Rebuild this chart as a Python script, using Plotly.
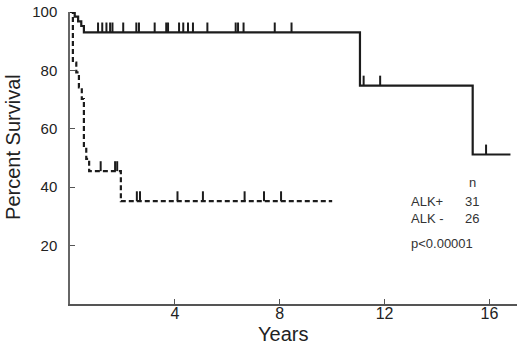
import plotly.graph_objects as go

# ALK+ (solid) Kaplan-Meier steps
pos_times = [0, 0.18, 0.31, 0.43, 0.53, 11.06, 15.36, 16.8]
pos_surv = [100, 98.4, 96.8, 95.2, 93.0, 74.8, 51.2, 51.2]
pos_censor = [0.08, 1.07, 1.23, 1.39, 1.53, 1.62, 2.03, 2.53, 2.63, 3.23, 3.67, 3.74,
              4.16, 4.32, 4.5, 4.69, 5.24, 6.32, 6.41, 6.62, 7.81, 8.45, 11.2, 11.83, 15.87]

# ALK- (dashed) Kaplan-Meier steps
neg_times = [0, 0.11, 0.24, 0.34, 0.45, 0.53, 0.62, 0.73, 1.94, 10.0]
neg_surv = [100, 82.7, 79.3, 74.2, 70.2, 53.7, 49.7, 45.5, 35.2, 35.2]
neg_censor = [1.17, 1.72, 1.80, 2.55, 2.67, 4.1, 5.07, 6.66, 7.4, 8.05]

x_ticks = [4, 8, 12, 16]
y_ticks = [20, 40, 60, 80, 100]

INK = "#1c1c1c"
TICK_H = 3.4  # censor mark height in survival units


def surv_at(t, times, surv):
    s = surv[0]
    for ti, si in zip(times, surv):
        if ti <= t:
            s = si
    return s


def censor_segments(ctimes, times, surv):
    xs, ys = [], []
    for t in ctimes:
        s = surv_at(t, times, surv)
        xs += [t, t, None]
        ys += [s, s + TICK_H, None]
    return xs, ys


fig = go.Figure()
fig.add_trace(go.Scatter(x=pos_times, y=pos_surv, mode="lines", line_shape="hv",
                         line=dict(color=INK, width=2.2), showlegend=False))
fig.add_trace(go.Scatter(x=neg_times, y=neg_surv, mode="lines", line_shape="hv",
                         line=dict(color=INK, width=2.2, dash="5px,3px"), showlegend=False))
cx, cy = censor_segments(pos_censor, pos_times, pos_surv)
fig.add_trace(go.Scatter(x=cx, y=cy, mode="lines", line=dict(color=INK, width=2),
                         showlegend=False))
cx, cy = censor_segments(neg_censor, neg_times, neg_surv)
fig.add_trace(go.Scatter(x=cx, y=cy, mode="lines", line=dict(color=INK, width=2),
                         showlegend=False))

font = "Liberation Sans, Arial, sans-serif"
ann_font = dict(family=font, size=13, color="#333")
anns = [
    dict(x=15.34, y=41.6, text="n", xanchor="center"),
    dict(x=12.94, y=35.0, text="ALK+", xanchor="left"),
    dict(x=15.0, y=35.0, text="31", xanchor="left"),
    dict(x=12.94, y=29.4, text="ALK -", xanchor="left"),
    dict(x=15.0, y=29.4, text="26", xanchor="left"),
    dict(x=12.94, y=20.8, text="p<0.00001", xanchor="left"),
]
for a in anns:
    fig.add_annotation(xref="x", yref="y", showarrow=False, yanchor="middle",
                       font=ann_font, **a)

fig.add_annotation(xref="paper", yref="paper", x=-0.1566, y=0.538, text="Percent Survival",
                   textangle=-90, showarrow=False, xanchor="left", yanchor="middle",
                   font=dict(family=font, size=20, color="#222"))
fig.add_annotation(xref="x", yref="paper", x=8.13, y=-0.147, text="Years",
                   showarrow=False, xanchor="center", yanchor="bottom",
                   font=dict(family=font, size=20, color="#222"))

fig.update_layout(
    width=520, height=347,
    margin=dict(l=70, r=3, t=12, b=43),
    paper_bgcolor="white", plot_bgcolor="white",
    xaxis=dict(range=[0, 17.05], tickvals=x_ticks, ticktext=[str(v) for v in x_ticks],
               showgrid=False, zeroline=False, showline=True, linecolor="#555", linewidth=1.5,
               ticks="inside", ticklen=5, tickcolor="#555", tickwidth=1.2,
               ticklabelstandoff=-6,
               tickfont=dict(family=font, size=16, color="#222")),
    yaxis=dict(range=[0, 100], tickvals=y_ticks, ticktext=[str(v) for v in y_ticks],
               showgrid=False, zeroline=False, showline=True, linecolor="#666", linewidth=1.5,
               ticks="inside", ticklen=5, tickcolor="#555", tickwidth=1.2,
               ticklabelstandoff=8,
               tickfont=dict(family=font, size=15, color="#222")),
)

# remove the page's default body margin so the figure sits at the window origin
fig.write_html("out.html", config={"displayModeBar": False},
               post_script="document.body.style.margin='0';document.body.style.overflow='hidden';")
